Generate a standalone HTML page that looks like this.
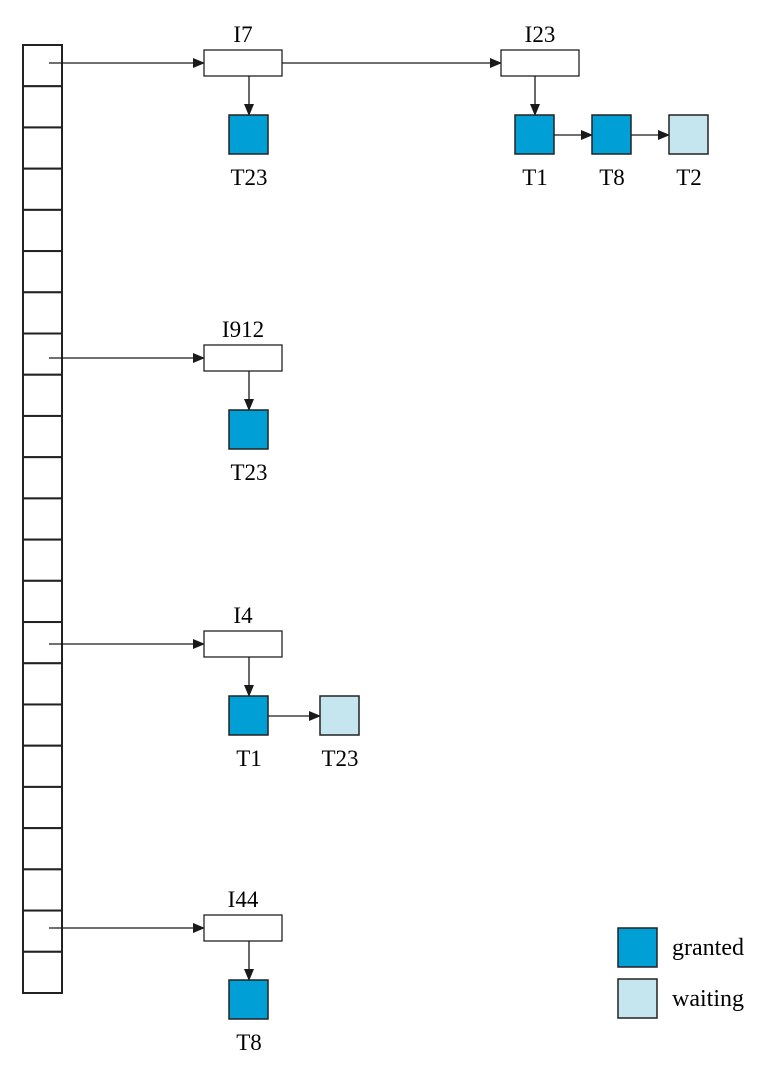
<!DOCTYPE html>
<html><head><meta charset="utf-8"><style>
html,body{margin:0;padding:0;background:#fff;}
svg{display:block;font-family:"Liberation Serif",serif;}
</style></head><body>
<svg id="c" width="780" height="1080" viewBox="0 0 780 1080">
<defs><marker id="ah" markerWidth="12" markerHeight="10" refX="11" refY="5" orient="auto" markerUnits="userSpaceOnUse"><path d="M0,0 L12,5 L0,10 z" fill="#1a1a1a"/></marker></defs>
<g id="tbl"></g><g id="items"></g>
<g>
<rect x="618" y="928" width="39" height="39" fill="#00a0d6" stroke="#222" stroke-width="1.5"/>
<text x="672" y="955" font-size="24">granted</text>
<rect x="618" y="979" width="39" height="39" fill="#c5e6ef" stroke="#222" stroke-width="1.5"/>
<text x="672" y="1006" font-size="24">waiting</text>
</g>
</svg>
<script>
const cellCount = 23;
const groupRows = [0, 7, 14, 21];
const groupArrowY = [63, 358, 644, 928];
const itemNames = [["I7","I23"],["I912"],["I4"],["I44"]];
const itemX = [[204,501],[204],[204],[204]];
const firstSquareX = [[229,515],[229],[229],[229]];
const squareGap = [[77,77],[77],[91],[77]];
const txNames = [[["T23"],["T1","T8","T2"]],[["T23"]],[["T1","T23"]],[["T8"]]];
const txStatus = [[["g"],["g","g","w"]],[["g"]],[["g","w"]],[["g"]]];
const NS="http://www.w3.org/2000/svg";
function mk(t,a,p){const e=document.createElementNS(NS,t);for(const k in a)e.setAttribute(k,a[k]);p.appendChild(e);return e;}
const tbl=document.getElementById('tbl'), items=document.getElementById('items');
const top0=45, bot=993, cx=23, cw=39, ch=(bot-top0)/cellCount;
for(let i=0;i<cellCount;i++){
  const r=mk('rect',{x:cx,y:top0+i*ch,width:cw,height:ch,fill:'#fff',stroke:'#222','stroke-width':2},tbl);
  
  
}
groupArrowY.forEach((ay,g)=>{
  const bt=ay-13;
  const a=mk('line',{x1:49,y1:ay,x2:204,y2:ay,stroke:'#1a1a1a','stroke-width':1.3,'marker-end':'url(#ah)'},items);
  
  
  itemNames[g].forEach((nm,k)=>{
    const bx=itemX[g][k];
    if(k>0){const l=mk('line',{x1:itemX[g][k-1]+78,y1:ay,x2:bx,y2:ay,stroke:'#1a1a1a','stroke-width':1.3,'marker-end':'url(#ah)'},items);
      
      }
    const b=mk('rect',{x:bx,y:bt,width:78,height:26,fill:'#fff',stroke:'#222','stroke-width':1.3},items);
    
    
    const t=mk('text',{x:bx+39,y:bt-8,'font-size':23,'text-anchor':'middle'},items);t.textContent=nm;
    
    
    const sy=bt+65, sx0=firstSquareX[g][k], gap=squareGap[g][k];
    const dl=mk('line',{x1:sx0+20,y1:bt+26,x2:sx0+20,y2:sy,stroke:'#1a1a1a','stroke-width':1.3,'marker-end':'url(#ah)'},items);
    
    
    txNames[g][k].forEach((tn,j)=>{
      const sx=sx0+j*gap;
      if(j>0){const l=mk('line',{x1:sx-gap+39,y1:sy+20,x2:sx,y2:sy+20,stroke:'#1a1a1a','stroke-width':1.3,'marker-end':'url(#ah)'},items);
        
        }
      const s=mk('rect',{x:sx,y:sy,width:39,height:39,fill:txStatus[g][k][j]==='g'?'#00a0d6':'#c5e6ef',stroke:'#222','stroke-width':1.5},items);
      
      
      const tt=mk('text',{x:sx+20,y:sy+70,'font-size':23,'text-anchor':'middle'},items);tt.textContent=tn;
      
      
    });
  });
});
</script>
</body></html>
